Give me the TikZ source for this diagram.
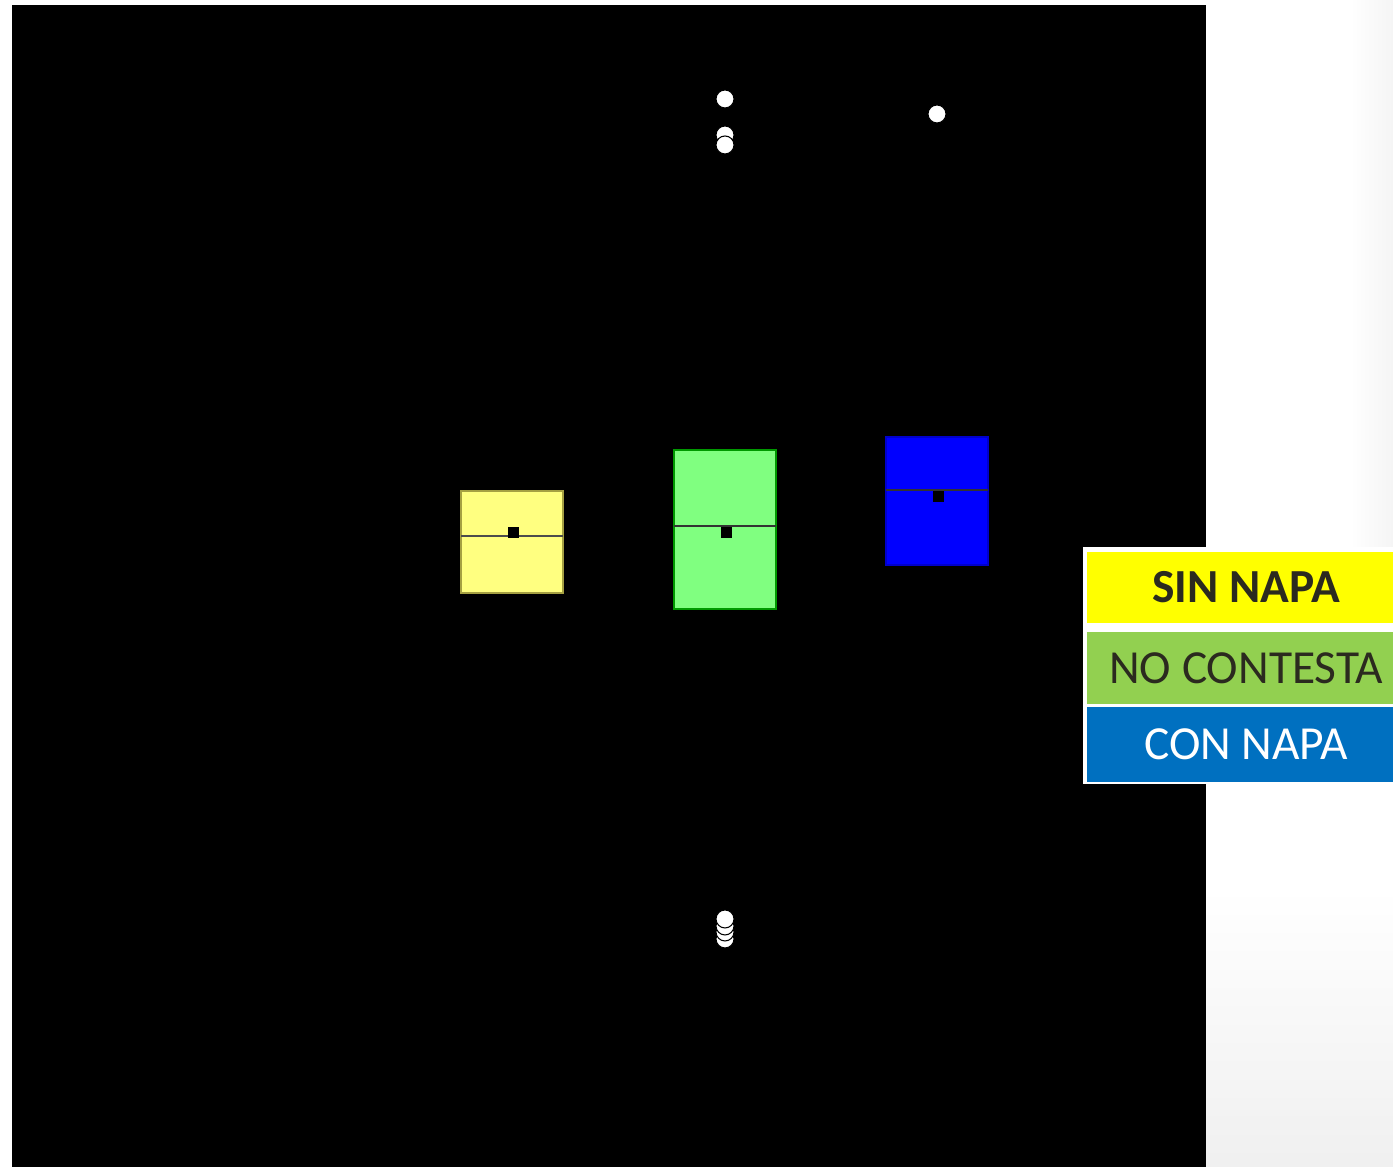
\documentclass[tikz,border=0pt]{standalone}
\usepackage{fontspec}
\setmainfont{Carlito}
\definecolor{sinnapa}{HTML}{FFFF00}
\definecolor{nocont}{HTML}{92D050}
\definecolor{connapa}{HTML}{0070C0}
\definecolor{legtext}{HTML}{2B2A1F}
\tikzset{
  outlier/.style={draw=black,fill=white,line width=0.3pt},
  meanmark/.style={fill=black},
  legbox/.style={minimum width=3.07cm,minimum height=0.71cm,inner sep=0pt,
    text depth=0pt,font=\fontsize{13.5}{16}\selectfont}
}
\begin{document}
\begin{tikzpicture}
        \useasboundingbox (0,0) rectangle (13.93,11.67) ;
        \fill[white] (0,0) rectangle (13.93,11.67) ;
        \shade[top color=white,bottom color=black!6] (12.06,0) rectangle (13.93,2.8) ;
        \shade[left color=white,right color=black!4] (13.5,6.2) rectangle (13.93,11.67) ;
        \fill[black] (0.12,0) rectangle (12.06,11.62) ; % plot area
        % boxes
        \draw[fill={rgb,255:red,255;green,255;blue,128},draw=black!40!yellow,line width=0.3pt]
          (4.61,5.74) rectangle (5.63,6.76) ;
        \draw[black!70,thin] (4.61,6.31) -- (5.63,6.31) ;
        \fill[meanmark] (5.075,6.285) rectangle (5.185,6.395) ;
        \draw[fill={rgb,255:red,128;green,255;blue,128},draw=black!40!green,line width=0.3pt]
          (6.74,5.58) rectangle (7.76,7.17) ;
        \draw[black!80,thin] (6.74,6.41) -- (7.76,6.41) ;
        \fill[meanmark] (7.205,6.285) rectangle (7.315,6.395) ;
        \draw[fill={rgb,255:red,0;green,0;blue,255},draw=blue!80!black,line width=0.3pt]
          (8.86,6.02) rectangle (9.88,7.30) ;
        \draw[black!80,thin] (8.86,6.77) -- (9.88,6.77) ;
        \fill[meanmark] (9.325,6.645) rectangle (9.435,6.755) ;
        % outliers
        \foreach \y in {10.68,10.32,10.22,2.28,2.35,2.41,2.48}
          \draw[outlier] (7.25,\y) circle (0.09) ;
        \draw[outlier] (9.37,10.53) circle (0.09) ;
        % legend
        \fill[white] (10.83,3.83) rectangle (13.93,6.20) ;
        \node[legbox,fill=sinnapa,text=legtext,font=\fontsize{13.5}{16}\selectfont\bfseries,
          anchor=north west] (sin) at (10.86,6.16) {\hspace{0.12cm}SIN NAPA} ;
        \node[legbox,fill=nocont,text=legtext,minimum height=0.72cm,
          anchor=north west] (nocontesta) at (10.86,5.36) {\hspace{0.12cm}NO CONTESTA} ;
        \node[legbox,fill=connapa,text=white,minimum height=0.75cm,
          anchor=north west] (con) at (10.86,4.61) {\hspace{0.12cm}CON NAPA} ;
      \end{tikzpicture}
\end{document}
